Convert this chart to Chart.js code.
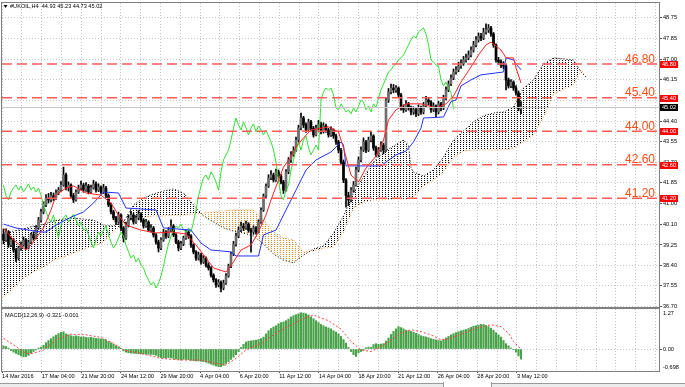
<!DOCTYPE html>
<html>
<head>
<meta charset="utf-8">
<script src="https://cdn.jsdelivr.net/npm/chart.js@4.4.1/dist/chart.umd.min.js"></script>
<style>
  html, body { margin: 0; padding: 0; background: #fff; }
  #wrap { position: relative; width: 685px; height: 387px; overflow: hidden; background: #fff; }
  #wrap canvas { position: absolute; left: 0; }
  #price { top: 0; }
  #macd { top: 307px; }
  #tabs { position: absolute; left: 0; top: 383px; width: 685px; height: 4px; background: #ececec; border-top: 1px solid #9a9a9a; }
  #tab { position: absolute; left: 443px; top: 382px; width: 47px; height: 5px; background: #fff; border-left: 1px solid #9a9a9a; border-right: 1px solid #9a9a9a; }
</style>
</head>
<body>
<div id="wrap">
  <canvas id="price" width="685" height="309"></canvas>
  <canvas id="macd" width="685" height="80"></canvas>
  <div id="tabs"></div>
  <div id="tab"></div>
</div>
<script>
// H4 candles, 14 Mar 2016 .. 3 May 2016
const opens = [
  39.70,39.46,39.79,39.25,39.46,39.04,38.70,39.12,39.25,39.46,
  39.12,39.37,39.67,39.54,39.96,40.29,40.63,40.92,41.21,41.13,
  41.31,41.21,41.42,41.54,41.75,42.17,41.63,41.75,41.31,41.13,
  41.46,41.63,41.75,41.54,41.71,41.46,41.63,41.80,41.54,41.67,
  41.46,41.63,41.31,40.92,40.63,40.38,40.21,40.50,39.96,39.54,
  40.08,40.38,40.50,40.21,40.38,40.54,40.29,40.04,40.21,39.87,
  39.96,39.67,39.37,39.12,39.46,39.79,39.62,39.87,40.04,39.67,
  39.37,39.12,39.29,39.54,39.79,39.62,39.25,38.96,38.70,38.83,
  38.54,38.70,38.41,38.29,37.99,37.79,37.58,37.70,37.45,37.66,
  37.95,38.37,38.87,39.29,39.62,39.87,40.04,39.96,40.12,39.87,
  39.79,39.96,39.79,40.21,40.71,41.29,41.71,42.05,42.17,41.96,
  42.30,42.13,41.88,41.54,42.30,42.80,43.01,43.21,43.63,44.13,
  44.55,44.26,44.05,44.39,44.13,43.84,44.13,44.30,43.97,44.22,
  44.05,43.84,44.05,43.80,43.55,43.21,42.71,41.96,41.31,41.13,
  41.54,41.75,42.38,42.80,43.21,43.55,43.21,43.63,43.80,43.30,
  43.01,43.21,43.42,43.21,45.30,45.64,45.80,45.72,45.80,45.51,
  44.97,44.89,45.14,44.97,44.80,44.89,44.72,44.97,44.80,45.05,
  45.30,45.22,44.89,45.05,44.80,45.14,44.97,45.39,45.72,45.97,
  46.22,46.47,46.56,46.72,46.81,46.97,47.06,47.18,47.39,47.60,
  47.81,47.97,47.89,48.14,48.23,48.31,48.06,47.60,46.97,46.89,
  46.76,46.72,46.14,45.89,46.05,45.80,45.60,44.93
];
const highs = [
  39.90,39.92,39.85,39.60,39.52,39.10,39.20,39.38,39.58,39.52,
  39.45,39.75,39.80,40.05,40.40,40.75,41.05,41.35,41.40,41.45,
  41.42,41.55,41.65,41.90,42.50,42.25,41.88,41.80,41.40,41.55,
  41.75,41.92,41.82,41.85,41.78,41.75,41.95,41.88,41.80,41.72,
  41.78,41.70,41.38,41.00,40.70,40.45,40.62,40.55,40.02,40.20,
  40.50,40.65,40.58,40.48,40.68,40.60,40.35,40.32,40.26,40.10,
  40.02,39.72,39.45,39.55,39.90,39.85,39.98,40.30,40.10,39.72,
  39.45,39.40,39.62,39.88,39.85,39.68,39.30,39.02,38.95,38.90,
  38.80,38.75,38.50,38.35,38.05,37.85,37.80,37.75,37.78,38.05,
  38.45,38.95,39.40,39.75,40.00,40.20,40.15,40.25,40.18,39.95,
  40.05,40.02,40.30,40.80,41.38,41.80,42.18,42.35,42.25,42.42,
  42.38,42.20,41.95,42.40,42.90,43.15,43.35,43.75,44.25,44.76,
  44.62,44.35,44.50,44.45,44.20,44.25,44.45,44.38,44.35,44.30,
  44.12,44.18,44.10,43.88,43.62,43.28,42.80,42.02,41.45,41.65,
  41.90,42.50,42.92,43.35,43.72,43.62,43.75,43.95,43.85,43.38,
  43.32,43.55,43.50,45.40,45.78,45.97,45.95,45.90,45.85,45.58,
  45.10,45.28,45.20,45.05,45.02,44.95,45.10,45.05,45.20,45.45,
  45.38,45.28,45.18,45.10,45.25,45.20,45.50,45.85,46.10,46.35,
  46.60,46.70,46.88,46.98,47.12,47.22,47.35,47.52,47.75,47.95,
  48.10,48.08,48.30,48.48,48.45,48.38,48.12,47.65,47.08,46.98,
  46.90,46.80,46.22,46.15,46.10,45.90,45.68,45.23
];
const lows = [
  39.30,39.40,39.15,39.18,38.95,38.55,38.62,39.02,39.20,39.05,
  39.08,39.30,39.45,39.50,39.90,40.20,40.55,40.85,41.00,41.05,
  41.10,41.15,41.35,41.48,41.70,41.55,41.50,41.20,41.02,41.08,
  41.40,41.55,41.45,41.48,41.38,41.40,41.58,41.45,41.48,41.38,
  41.40,41.22,40.85,40.55,40.30,40.10,40.15,39.85,39.37,39.48,
  40.00,40.30,40.12,40.15,40.30,40.20,39.95,39.98,39.80,39.78,
  39.58,39.28,38.96,39.05,39.40,39.52,39.55,39.80,39.60,39.30,
  39.00,39.05,39.22,39.48,39.52,39.15,38.88,38.60,38.62,38.45,
  38.48,38.32,38.20,37.90,37.70,37.48,37.50,37.29,37.38,37.60,
  37.90,38.30,38.80,39.20,39.55,39.80,39.85,39.90,39.78,38.95,
  39.70,39.70,39.75,40.15,40.65,41.20,41.65,41.98,41.88,41.90,
  42.05,41.80,41.40,41.50,42.22,42.70,42.95,43.15,43.55,44.05,
  44.15,43.95,44.00,44.02,43.75,43.80,44.05,43.88,43.92,43.95,
  43.75,43.78,43.70,43.45,43.10,42.60,41.85,40.83,40.90,41.05,
  41.45,41.70,42.30,42.72,43.15,43.10,43.15,43.55,43.20,42.92,
  42.95,43.15,43.05,43.15,45.20,45.55,45.60,45.62,45.40,44.88,
  44.78,44.82,44.88,44.68,44.70,44.60,44.65,44.70,44.72,44.98,
  45.10,44.78,44.82,44.60,44.72,44.85,44.90,45.30,45.65,45.90,
  46.15,46.38,46.48,46.62,46.75,46.88,46.98,47.10,47.30,47.52,
  47.72,47.78,47.82,48.05,48.12,47.95,47.50,46.88,46.78,46.65,
  46.60,45.72,45.80,45.82,45.70,45.50,44.85,44.73
];
const closes = [
  39.46,39.79,39.25,39.46,39.04,38.70,39.12,39.25,39.46,39.12,
  39.37,39.67,39.54,39.96,40.29,40.63,40.92,41.21,41.13,41.31,
  41.21,41.42,41.54,41.75,42.17,41.63,41.75,41.31,41.13,41.46,
  41.63,41.75,41.54,41.71,41.46,41.63,41.80,41.54,41.67,41.46,
  41.63,41.31,40.92,40.63,40.38,40.21,40.50,39.96,39.54,40.08,
  40.38,40.50,40.21,40.38,40.54,40.29,40.04,40.21,39.87,39.96,
  39.67,39.37,39.12,39.46,39.79,39.62,39.87,40.04,39.67,39.37,
  39.12,39.29,39.54,39.79,39.62,39.25,38.96,38.70,38.83,38.54,
  38.70,38.41,38.29,37.99,37.79,37.58,37.70,37.45,37.66,37.95,
  38.37,38.87,39.29,39.62,39.87,40.04,39.96,40.12,39.87,39.79,
  39.96,39.79,40.21,40.71,41.29,41.71,42.05,42.17,41.96,42.30,
  42.13,41.88,41.54,42.30,42.80,43.01,43.21,43.63,44.13,44.55,
  44.26,44.05,44.39,44.13,43.84,44.13,44.30,43.97,44.22,44.05,
  43.84,44.05,43.80,43.55,43.21,42.71,41.96,41.31,41.13,41.54,
  41.75,42.38,42.80,43.21,43.55,43.21,43.63,43.80,43.30,43.01,
  43.21,43.42,43.21,45.30,45.64,45.80,45.72,45.80,45.51,44.97,
  44.89,45.14,44.97,44.80,44.89,44.72,44.97,44.80,45.05,45.30,
  45.22,44.89,45.05,44.80,45.14,44.97,45.39,45.72,45.97,46.22,
  46.47,46.56,46.72,46.81,46.97,47.06,47.18,47.39,47.60,47.81,
  47.97,47.89,48.14,48.23,48.31,48.06,47.60,46.97,46.89,46.76,
  46.72,46.14,45.89,46.05,45.80,45.60,44.93,45.02
];

// Ichimoku lines, [bar, value]
const tenkan = [[0,39.96],[4,39.46],[9,39.04],[11,39.25],[16,39.96],[19,40.71],[21,41.33],[25,41.63],[28,41.71],[33,41.42],
  [39,41.33],[43,41.00],[46,40.50],[49,40.08],[55,39.87],[61,39.75],[67,39.79],[73,39.71],[77,39.25],[81,38.70],
  [84,38.29],[89,38.12],[92,38.54],[95,39.04],[99,39.25],[102,39.79],[105,40.50],[107,41.13],[110,41.96],[112,42.50],
  [115,42.92],[117,43.34],[120,43.72],[123,44.05],[130,44.18],[134,43.97],[136,43.30],[139,42.17],[142,41.88],[145,42.46],
  [149,42.96],[152,43.63],[154,44.47],[157,44.89],[161,45.14],[167,45.14],[173,44.97],[177,45.14],[180,45.47],[183,46.05],
  [187,46.68],[190,47.18],[193,47.60],[195,47.72],[199,47.39],[201,47.06],[204,47.06],[205,46.64],[207,46.01]];
const kijun = [[0,40.12],[5,39.96],[15,39.79],[17,39.79],[21,40.08],[27,40.41],[32,40.63],[36,41.00],[40,41.46],[46,41.42],
  [49,40.79],[61,40.71],[64,39.96],[75,39.87],[79,39.33],[83,39.04],[91,38.96],[93,38.79],[102,38.79],[104,39.67],
  [109,39.87],[113,40.71],[117,41.54],[121,42.38],[125,42.80],[131,43.13],[135,43.55],[136,43.42],[137,42.55],[151,42.55],
  [153,42.71],[157,43.01],[161,43.17],[164,43.55],[167,44.13],[168,44.55],[176,44.59],[179,45.24],[181,45.30],[183,45.89],
  [187,46.14],[191,46.35],[200,46.47],[201,47.06],[204,46.97],[205,46.81],[207,46.56]];
const cloudIdx = [0,4,8,12,16,20,24,28,32,36,40,44,48,52,56,60,64,68,72,76,80,84,88,92,96,100,104,108,112,116,
  120,124,128,132,136,140,144,148,152,156,160,162,163,164,168,172,176,180,184,188,192,196,200,204,208,212,216,220,224,228,231,233];
const spanA = [39.75,39.83,39.92,40.04,40.12,40.25,40.33,40.38,40.33,40.29,40.08,40.04,40.21,40.92,41.21,41.38,41.50,41.59,41.42,40.92,
  40.46,40.21,39.96,39.83,39.75,39.62,39.29,38.87,38.62,38.50,38.83,39.08,39.21,39.75,40.46,41.42,42.09,42.71,43.13,43.38,
  43.63,43.42,42.46,42.30,42.13,42.38,42.92,43.63,44.01,44.39,44.64,44.76,44.80,45.01,45.80,46.14,46.81,47.06,47.02,46.97,46.47,46.26];
const spanB = [37.08,37.45,37.87,38.12,38.33,38.62,38.75,38.91,39.08,39.21,39.37,39.83,40.12,40.38,40.41,40.46,40.46,40.50,40.50,40.54,
  40.58,40.63,40.67,40.71,40.71,40.71,40.29,39.79,39.54,39.46,38.96,39.00,39.12,39.16,39.79,40.79,41.04,41.13,41.13,41.17,
  41.17,41.17,41.21,41.25,41.71,41.96,42.30,42.92,43.17,43.21,43.21,43.21,43.21,43.30,43.55,43.84,44.59,45.55,45.76,45.93,46.56,46.26];

// MACD(12,26,9)
const macdHist = [
  0.10,0.08,0.03,-0.05,-0.10,-0.14,-0.18,-0.22,-0.25,-0.24,
  -0.20,-0.14,-0.08,-0.03,0.03,0.06,0.12,0.20,0.27,0.33,
  0.39,0.44,0.49,0.53,0.55,0.48,0.45,0.42,0.40,0.42,
  0.40,0.38,0.39,0.37,0.36,0.37,0.35,0.34,0.33,0.32,
  0.31,0.28,0.24,0.20,0.15,0.10,0.07,0.02,-0.06,-0.10,
  -0.12,-0.13,-0.14,-0.14,-0.15,-0.15,-0.16,-0.16,-0.17,-0.17,
  -0.18,-0.20,-0.24,-0.27,-0.28,-0.28,-0.27,-0.28,-0.30,-0.32,
  -0.33,-0.34,-0.33,-0.33,-0.34,-0.36,-0.37,-0.38,-0.38,-0.39,
  -0.40,-0.42,-0.45,-0.48,-0.51,-0.54,-0.56,-0.56,-0.52,-0.46,
  -0.40,-0.33,-0.26,-0.18,-0.08,0.05,0.15,0.22,0.25,0.26,
  0.27,0.28,0.30,0.33,0.38,0.48,0.58,0.65,0.70,0.74,
  0.80,0.84,0.86,0.90,0.95,1.02,1.06,1.09,1.12,1.15,
  1.14,1.12,1.08,1.02,0.96,0.90,0.84,0.78,0.74,0.70,
  0.67,0.64,0.58,0.54,0.48,0.40,0.30,0.19,0.05,-0.08,
  -0.18,-0.24,-0.12,-0.08,-0.03,0.04,0.06,0.05,0.14,0.17,
  0.15,0.16,0.17,0.25,0.35,0.46,0.56,0.64,0.71,0.68,
  0.64,0.60,0.58,0.56,0.53,0.50,0.46,0.42,0.40,0.38,
  0.36,0.33,0.31,0.29,0.27,0.26,0.30,0.35,0.40,0.45,
  0.49,0.52,0.55,0.58,0.60,0.62,0.65,0.69,0.72,0.74,
  0.76,0.78,0.78,0.75,0.71,0.66,0.60,0.52,0.45,0.38,
  0.27,0.17,0.10,0.03,-0.02,-0.10,-0.22,-0.321
];
const macdSignal = [[0,0.34],[4,0.13],[9,-0.14],[12,-0.14],[16,-0.03],[21,0.29],[27,0.47],[33,0.45],[39,0.37],[44,0.18],
  [48,-0.03],[55,-0.14],[63,-0.30],[71,-0.35],[79,-0.35],[85,-0.46],[89,-0.51],[93,-0.30],[97,-0.03],[103,0.18],
  [108,0.45],[115,0.77],[120,0.97],[124,1.08],[130,0.90],[135,0.63],[139,0.24],[143,-0.03],[147,-0.08],[151,0.08],
  [155,0.29],[159,0.50],[163,0.61],[167,0.55],[171,0.45],[175,0.29],[179,0.34],[184,0.50],[189,0.66],[195,0.77],
  [199,0.71],[202,0.50],[204,0.24],[207,-0.001]];

const priceTicks = [48.75,47.85,47.00,46.15,45.30,44.40,43.55,42.70,41.85,41.00,40.10,39.25,38.40,37.55,36.70];
const levels = [46.80,45.40,44.00,42.60,41.20];
const lastPrice = 45.02;
const dateLabels = ['14 Mar 2016','17 Mar 04:00','21 Mar 20:00','24 Mar 12:00','29 Mar 20:00','4 Apr 04:00','6 Apr 20:00',
  '11 Apr 12:00','14 Apr 04:00','18 Apr 20:00','21 Apr 12:00','26 Apr 04:00','28 Apr 20:00','3 May 12:00'];
const header = '#UKOIL,H4  44.93 45.23 44.73 45.02';
const macdHeader = 'MACD(12,26,9) -0.321 -0.001';

const X_MIN = -0.6, X_MAX = 262.2;
const gridPos = [];
for (let k = 0; k <= 33; k++) gridPos.push(-0.56 + 7.92 * k);

const FONT = '"Liberation Sans", Arial, sans-serif';
const small = {family: FONT, size: 5.6};
const GRID = '#c4c4c4';

function fixBox(w, h) {
  return s => {
    if (w !== null) s.width = w;
    if (h !== null) s.height = h;
    s.paddingLeft = s.paddingRight = s.paddingTop = s.paddingBottom = 0;
  };
}

const priceCtx = document.getElementById('price').getContext('2d');
function dots(color) {
  const t = document.createElement('canvas');
  t.width = 3; t.height = 2;
  const g = t.getContext('2d');
  g.fillStyle = color;
  g.fillRect(1, 0, 1, 1);
  return priceCtx.createPattern(t, 'repeat');
}
const dotBlack = dots('#000');
const dotOrange = dots('#f0881a');

const pricePanel = {
  id: 'pricePanel',
  afterDatasetsDraw(chart) {
    const {ctx, chartArea: a, scales: {y}} = chart;
    ctx.save();
    ctx.beginPath(); ctx.rect(a.left, a.top, a.width, a.height); ctx.clip();
    const py = Math.round(y.getPixelForValue(lastPrice)) + 0.5;
    ctx.strokeStyle = '#c8c8c8'; ctx.lineWidth = 1;
    ctx.beginPath(); ctx.moveTo(a.left, py); ctx.lineTo(a.right, py); ctx.stroke();
    ctx.strokeStyle = '#ff5b5b'; ctx.lineWidth = 1.5; ctx.setLineDash([10, 5]);
    levels.forEach(v => {
      const ly = y.getPixelForValue(v);
      ctx.beginPath(); ctx.moveTo(a.left, ly); ctx.lineTo(a.right, ly); ctx.stroke();
    });
    ctx.setLineDash([]);
    ctx.fillStyle = '#ff4c14';
    ctx.font = '12px ' + FONT;
    ctx.textAlign = 'right'; ctx.textBaseline = 'alphabetic';
    levels.forEach(v => ctx.fillText(v.toFixed(2), a.right - 4, y.getPixelForValue(v) - 1.5));
    ctx.restore();
  },
  afterDraw(chart) {
    const {ctx, chartArea: a, scales: {y}} = chart;
    ctx.save();
    ctx.strokeStyle = '#808080'; ctx.lineWidth = 1;
    ctx.strokeRect(a.left - 0.5, a.top - 0.5, a.width + 1, a.height + 1);
    ctx.font = '5.6px ' + FONT;
    ctx.textAlign = 'center'; ctx.textBaseline = 'middle';
    levels.forEach(v => {
      const ly = Math.round(y.getPixelForValue(v));
      ctx.fillStyle = '#ff0000'; ctx.fillRect(a.right + 1, ly - 3, 18, 7);
      ctx.fillStyle = '#fff'; ctx.fillText(v.toFixed(2), a.right + 10, ly + 0.5);
    });
    const py = Math.round(y.getPixelForValue(lastPrice));
    ctx.fillStyle = '#000'; ctx.fillRect(a.right + 1, py - 3, 18, 7);
    ctx.fillStyle = '#fff'; ctx.fillText(lastPrice.toFixed(2), a.right + 10, py + 0.5);
    ctx.fillStyle = '#000';
    ctx.beginPath(); ctx.moveTo(a.left + 1.5, a.top + 2); ctx.lineTo(a.left + 5.5, a.top + 2); ctx.lineTo(a.left + 3.5, a.top + 5); ctx.fill();
    ctx.textAlign = 'left';
    ctx.fillText(header, a.left + 8, a.top + 3.5);
    ctx.restore();
  }
};

const line = (data, color, extra) => Object.assign({
  type: 'line', data, borderColor: color, borderWidth: 1, pointRadius: 0, tension: 0, fill: false, order: 0
}, extra || {});

new Chart(priceCtx, {
  type: 'bar',
  data: {
    datasets: [
      line(tenkan.map(([x, y]) => ({x, y})), '#ff2020'),
      line(kijun.map(([x, y]) => ({x, y})), '#2233ff'),
      line(closes.slice(26).map((c, j) => ({x: j, y: c})), '#33e033'),
      {type: 'bar', data: closes.map((c, i) => ({x: i, y: [opens[i], c]})),
       backgroundColor: closes.map((c, i) => c >= opens[i] ? '#6e6e6e' : '#000'),
       barThickness: 2, minBarLength: 1, grouped: false, order: 1},
      {type: 'bar', data: closes.map((c, i) => ({x: i, y: [lows[i], highs[i]]})),
       backgroundColor: '#000', barThickness: 1, grouped: false, order: 2},
      line(cloudIdx.map((x, k) => ({x, y: spanA[k]})), '#000',
        {borderDash: [1, 2], order: 3, fill: {target: '+1', above: dotBlack, below: dotOrange}}),
      line(cloudIdx.map((x, k) => ({x, y: spanB[k]})), '#f0a040', {borderDash: [1, 2], order: 3})
    ]
  },
  options: {
    responsive: false, animation: false, devicePixelRatio: 1,
    layout: {padding: {left: 2, top: 3, right: 0, bottom: 2}},
    plugins: {legend: {display: false}, tooltip: {enabled: false}},
    scales: {
      x: {type: 'linear', min: X_MIN, max: X_MAX, offset: false,
          afterBuildTicks: s => { s.ticks = gridPos.map(v => ({value: v})); },
          afterFit: fixBox(null, 0),
          ticks: {display: false},
          grid: {offset: false, color: GRID, drawTicks: false},
          border: {display: false, dash: [1, 2]}},
      y: {position: 'right', min: 36.66, max: 49.35,
          afterBuildTicks: s => { s.ticks = priceTicks.map(v => ({value: v})); },
          afterFit: fixBox(26, null),
          ticks: {font: small, color: '#000', padding: 1, autoSkip: false, callback: v => v.toFixed(2)},
          grid: {color: GRID, tickLength: 3, tickColor: '#555'},
          border: {display: false, dash: [1, 2]}}
    }
  },
  plugins: [pricePanel]
});

const macdPanel = {
  id: 'macdPanel',
  afterDraw(chart) {
    const {ctx, chartArea: a, scales: {y}} = chart;
    ctx.save();
    ctx.strokeStyle = '#808080'; ctx.lineWidth = 1;
    ctx.strokeRect(a.left - 0.5, a.top - 0.5, a.width + 1, a.height + 1);
    ctx.fillStyle = '#000';
    ctx.font = '5.6px ' + FONT;
    ctx.textAlign = 'left'; ctx.textBaseline = 'middle';
    ctx.fillText(macdHeader, a.left + 3, a.top + 6);
    ctx.fillText(y.max.toFixed(2), a.right + 4, a.top + 4);
    ctx.fillText(y.min.toFixed(3), a.right + 4, a.bottom - 4);
    ctx.restore();
  }
};

new Chart(document.getElementById('macd'), {
  type: 'bar',
  data: {
    datasets: [
      line(macdSignal.map(([x, y]) => ({x, y})), '#ff4040', {borderDash: [2, 2]}),
      {type: 'bar', data: macdHist.map((v, i) => ({x: i, y: v})), backgroundColor: '#4aa34a',
       barThickness: 1.5, order: 1}
    ]
  },
  options: {
    responsive: false, animation: false, devicePixelRatio: 1,
    layout: {padding: {left: 2, top: 2, right: 0, bottom: 0}},
    plugins: {legend: {display: false}, tooltip: {enabled: false}},
    scales: {
      x: {type: 'linear', min: X_MIN, max: X_MAX, offset: false,
          afterBuildTicks: s => { s.ticks = gridPos.map(v => ({value: v})); },
          afterFit: fixBox(null, 16),
          ticks: {font: small, color: '#000', align: 'start', padding: 0, maxRotation: 0, autoSkip: false,
                  callback: (v, i) => (i % 2 === 0 && dateLabels[i / 2]) ? dateLabels[i / 2] : ''},
          grid: {offset: false, color: GRID, tickLength: 2,
                 tickColor: c => (c.index % 2 === 0 && c.index / 2 < dateLabels.length) ? '#555' : 'rgba(0,0,0,0)'},
          border: {display: false, dash: [1, 2]}},
      y: {position: 'right', min: -0.698, max: 1.27,
          afterBuildTicks: s => { s.ticks = [{value: 0}]; },
          afterFit: fixBox(26, null),
          ticks: {font: small, color: '#000', padding: 1, callback: v => v.toFixed(2)},
          grid: {color: GRID, tickLength: 3, tickColor: '#555'},
          border: {display: false, dash: [1, 2]}}
    }
  },
  plugins: [macdPanel]
});
</script>
</body>
</html>
